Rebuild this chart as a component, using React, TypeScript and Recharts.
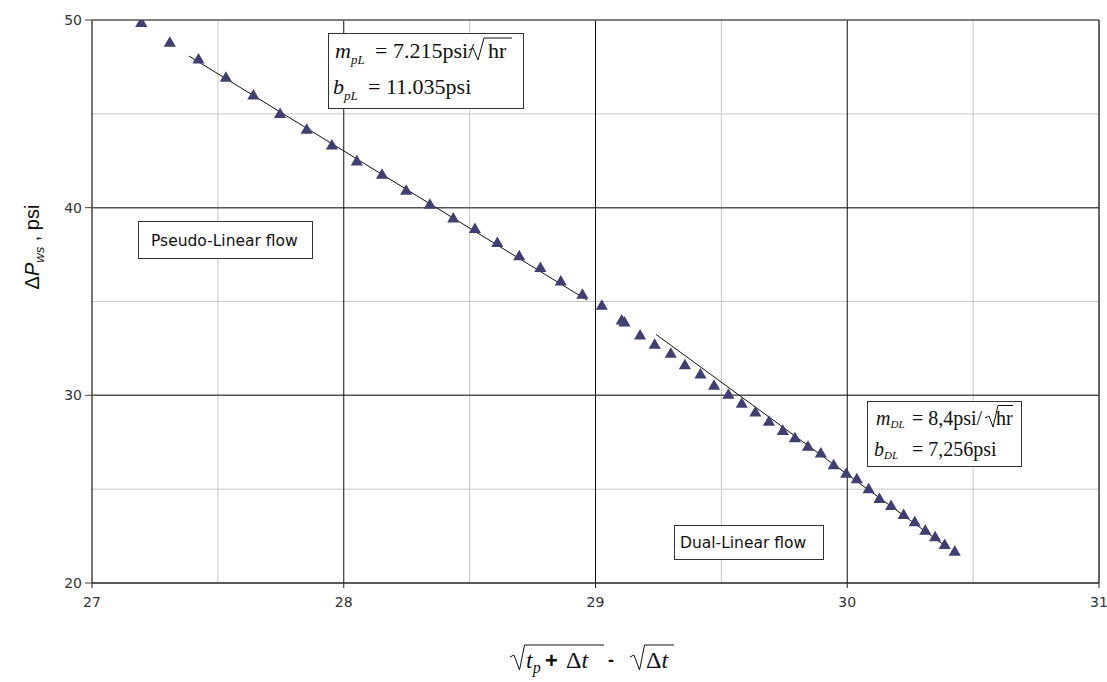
import React from "react";
import { ScatterChart, Scatter, XAxis, YAxis, ZAxis, ReferenceLine } from "recharts";

const xTicks = [27, 28, 29, 30, 31];
const yTicks = [20, 30, 40, 50];
const minorX = [27.5, 28.5, 29.5, 30.5];
const minorY = [25, 35, 45];
const majorX = [28, 29, 30];
const majorY = [30, 40];

const pointX = [
  27.196, 27.309, 27.423, 27.532, 27.641, 27.747, 27.853, 27.953, 28.052, 28.152,
  28.248, 28.342, 28.435, 28.521, 28.61, 28.697, 28.781, 28.862, 28.948, 29.025,
  29.104, 29.115, 29.177, 29.235, 29.299, 29.355, 29.417, 29.471, 29.528, 29.581,
  29.635, 29.689, 29.744, 29.792, 29.844, 29.895, 29.946, 29.996, 30.038, 30.085,
  30.128, 30.174, 30.224, 30.268, 30.31, 30.349, 30.387, 30.427,
];
const pointY = [
  49.82, 48.76, 47.87, 46.89, 45.95, 44.97, 44.13, 43.28, 42.44, 41.73,
  40.88, 40.13, 39.4, 38.84, 38.09, 37.38, 36.76, 36.04, 35.33, 34.75,
  33.96, 33.85, 33.16, 32.67, 32.19, 31.58, 31.08, 30.48, 30.0, 29.52,
  29.06, 28.56, 28.08, 27.69, 27.23, 26.87, 26.25, 25.79, 25.5, 24.97,
  24.45, 24.08, 23.6, 23.21, 22.76, 22.41, 22.0, 21.64,
];

const pseudoFit = [
  { x: 27.385, y: 48.08 },
  { x: 28.967, y: 35.07 },
];
const dualFit = [
  { x: 29.241, y: 33.24 },
  { x: 30.405, y: 21.82 },
];

const data = pointX.map((x, i) => ({ x, y: pointY[i] }));

const serif = "'Liberation Serif', 'Times New Roman', serif";
const sans = "'DejaVu Sans', Verdana, sans-serif";

function Overlay() {
  return (
    <svg
      width={1107}
      height={682}
      style={{ position: "absolute", left: 0, top: 0, pointerEvents: "none" }}
    >
      {/* Box 1 */}
      <rect x={328.5} y={33.5} width={195} height={75} fill="#fff" stroke="#333" strokeWidth={1} />
      <text x={335} y={58} fontFamily={serif} fontSize={22} fill="#111">
        <tspan fontStyle="italic">m</tspan>
        <tspan fontStyle="italic" fontSize={13} dy={6}>pL</tspan>
      </text>
      <text x={375} y={58} fontFamily={serif} fontSize={22} fill="#111">= 7.215psi/</text>
      <path d="M469 50 L473 48 L478 60 L484 38 L512 38" fill="none" stroke="#111" strokeWidth={1} />
      <text x={488} y={58} fontFamily={serif} fontSize={22} fill="#111">hr</text>
      <text x={333} y={94} fontFamily={serif} fontSize={22} fill="#111">
        <tspan fontStyle="italic">b</tspan>
        <tspan fontStyle="italic" fontSize={13} dy={6}>pL</tspan>
      </text>
      <text x={368} y={94} fontFamily={serif} fontSize={22} fill="#111">= 11.035psi</text>

      {/* Box 2 */}
      <rect x={867.5} y={401.5} width={154} height={65} fill="#fff" stroke="#333" strokeWidth={1} />
      <text x={876} y={425} fontFamily={serif} fontSize={20} fill="#111">
        <tspan fontStyle="italic">m</tspan>
        <tspan fontStyle="italic" fontSize={11} dy={3}>DL</tspan>
      </text>
      <text x={912} y={425} fontFamily={serif} fontSize={20} fill="#111">= 8,4psi/</text>
      <path d="M985 418 L989 416 L993 427 L998 405.5 L1013 405.5" fill="none" stroke="#111" strokeWidth={1} />
      <text x={996} y={425} fontFamily={serif} fontSize={20} fill="#111">hr</text>
      <text x={874} y={456} fontFamily={serif} fontSize={20} fill="#111">
        <tspan fontStyle="italic">b</tspan>
        <tspan fontStyle="italic" fontSize={11} dy={3}>DL</tspan>
      </text>
      <text x={912} y={456} fontFamily={serif} fontSize={20} fill="#111">= 7,256psi</text>

      {/* Flow labels */}
      <rect x={138.5} y={221.5} width={174} height={37} fill="#fff" stroke="#333" strokeWidth={1} />
      <text x={151} y={246} fontFamily={sans} fontSize={15.5} fill="#111">Pseudo-Linear flow</text>
      <rect x={674.5} y={525.5} width={149} height={34} fill="#fff" stroke="#333" strokeWidth={1} />
      <text x={680} y={548} fontFamily={sans} fontSize={15.5} fill="#111">Dual-Linear flow</text>

      {/* Y axis label */}
      <text
        transform="translate(39,247) rotate(-90)"
        textAnchor="middle"
        fontFamily="'Liberation Sans', Arial, sans-serif"
        fontSize={20}
        fill="#111"
      >
        <tspan>Δ</tspan>
        <tspan fontStyle="italic">P</tspan>
        <tspan fontStyle="italic" fontSize={13} dy={5}>ws</tspan>
        <tspan dy={-5}> , psi</tspan>
      </text>

      {/* X axis label */}
      <path d="M510 657 L514 655 L519.5 670 L524.5 645 L604 645" fill="none" stroke="#111" strokeWidth={1} />
      <text x={526} y={668} fontFamily={serif} fontSize={24} fill="#111">
        <tspan fontStyle="italic">t</tspan>
        <tspan fontStyle="italic" fontSize={16} dy={5}>p</tspan>
      </text>
      <text x={545} y={668} fontFamily="'Liberation Sans', Arial, sans-serif" fontWeight="bold" fontSize={22} fill="#111">+</text>
      <text x={566} y={668} fontFamily={serif} fontSize={24} fill="#111">
        <tspan>Δ</tspan>
        <tspan fontStyle="italic">t</tspan>
      </text>
      <text x={608} y={666} fontFamily="'Liberation Sans', Arial, sans-serif" fontWeight="bold" fontSize={18} fill="#111">-</text>
      <path d="M630 657 L634 655 L639.5 670 L644.5 645 L674 645" fill="none" stroke="#111" strokeWidth={1} />
      <text x={646} y={668} fontFamily={serif} fontSize={24} fill="#111">
        <tspan>Δ</tspan>
        <tspan fontStyle="italic">t</tspan>
      </text>
    </svg>
  );
}

export default function App() {
  return (
    <div style={{ position: "absolute", left: 0, top: 0, width: 1107, height: 682, background: "#fff" }}>
      <ScatterChart width={1107} height={682} margin={{ top: 20, right: 8, left: 0, bottom: 69 }}>
        <XAxis
          type="number"
          dataKey="x"
          domain={[27, 31]}
          ticks={xTicks}
          allowDataOverflow
          height={30}
          tickSize={5}
          tickMargin={9}
          axisLine={{ stroke: "#222", strokeWidth: 1.5 }}
          tickLine={{ stroke: "#222" }}
          tick={{ fill: "#333", fontSize: 14, fontFamily: sans }}
        />
        <YAxis
          type="number"
          dataKey="y"
          domain={[20, 50]}
          ticks={yTicks}
          allowDataOverflow
          width={92}
          tickSize={7}
          tickMargin={3}
          axisLine={{ stroke: "#444", strokeWidth: 1.5 }}
          tickLine={{ stroke: "#444" }}
          tick={{ fill: "#333", fontSize: 14, fontFamily: sans }}
        />
        <ZAxis range={[38, 38]} />
        {minorX.map((v) => (
          <ReferenceLine key={"mx" + v} x={v} stroke="#c8c8c8" strokeWidth={1} />
        ))}
        {minorY.map((v) => (
          <ReferenceLine key={"my" + v} y={v} stroke="#c8c8c8" strokeWidth={1} />
        ))}
        {majorY.map((v) => (
          <ReferenceLine key={"My" + v} y={v} stroke="#555" strokeWidth={1.5} />
        ))}
        {majorX.map((v) => (
          <ReferenceLine key={"Mx" + v} x={v} stroke="#111" strokeWidth={1} />
        ))}
        <ReferenceLine y={50} stroke="#555" strokeWidth={1.5} />
        <ReferenceLine x={31} stroke="#333" strokeWidth={1.5} />
        <ReferenceLine segment={pseudoFit} stroke="#111" strokeWidth={1} />
        <ReferenceLine segment={dualFit} stroke="#111" strokeWidth={1} />
        <Scatter data={data} shape="triangle" fill="#3f3f72" isAnimationActive={false} />
      </ScatterChart>
      <Overlay />
    </div>
  );
}
